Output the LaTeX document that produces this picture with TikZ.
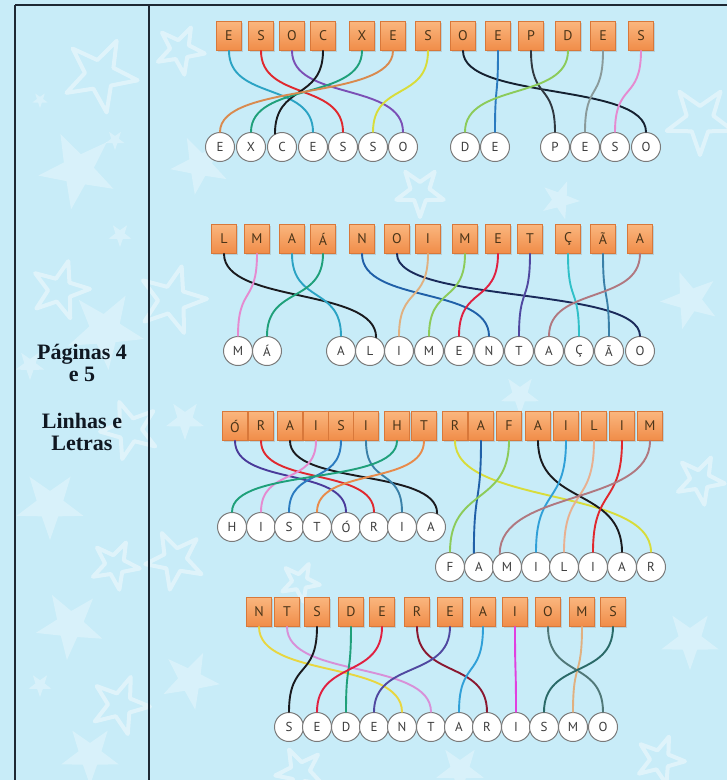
\documentclass[tikz,border=0pt]{standalone}
\usepackage{fontspec}
\setmainfont{Liberation Serif}
\newfontfamily\lettfont{PT Sans}
\usetikzlibrary{shadows}

\definecolor{bgblue}{HTML}{C8ECF8}
\definecolor{frameline}{HTML}{1E2834}
\definecolor{titletext}{HTML}{101822}
\definecolor{boxtop}{HTML}{FAB67E}
\definecolor{boxbot}{HTML}{F08C48}
\definecolor{boxedge}{HTML}{D8783A}
\definecolor{boxtext}{HTML}{4A3418}
\definecolor{circedge}{HTML}{7A7A7A}
\definecolor{circtext}{HTML}{3C3C3C}
% wire colours
\definecolor{cteal}{HTML}{2BA3C4}
\definecolor{cred}{HTML}{E0282E}
\definecolor{cpurple}{HTML}{7B4FB5}
\definecolor{cblack}{HTML}{1A1A1E}
\definecolor{cgreen}{HTML}{1FA07A}
\definecolor{corange}{HTML}{D98A4E}
\definecolor{cyellow}{HTML}{D8DC3A}
\definecolor{cnavy}{HTML}{152030}
\definecolor{cblue}{HTML}{2A7BC0}
\definecolor{cdark}{HTML}{303840}
\definecolor{clgreen}{HTML}{8CCB5A}
\definecolor{cgray}{HTML}{8A9A9A}
\definecolor{cpink}{HTML}{E58AD0}
\definecolor{cdblue}{HTML}{2060A8}
\definecolor{cdnavy}{HTML}{1A2A5A}
\definecolor{ctan}{HTML}{E0B080}
\definecolor{ccrimson}{HTML}{E02040}
\definecolor{cindigo}{HTML}{5048A0}
\definecolor{ccyan}{HTML}{30C0C8}
\definecolor{csteel}{HTML}{3A80A8}
\definecolor{cmauve}{HTML}{B07880}
\definecolor{cviolet}{HTML}{4A3A9A}
\definecolor{cskyblue}{HTML}{30A0D8}
\definecolor{cpeach}{HTML}{E8B090}
\definecolor{cgold}{HTML}{E8D640}
\definecolor{clilac}{HTML}{D890D8}
\definecolor{cmaroon}{HTML}{8A1830}
\definecolor{cmagenta}{HTML}{E040E0}
\definecolor{cgteal}{HTML}{507878}
\definecolor{cdteal}{HTML}{2A6A68}
\definecolor{corng}{HTML}{E88A4A}

\newcommand\bgstar[5]{%
  \draw[#5, shift={(#1,#2)}, rotate=#4] (90:#3) -- (126:0.4*#3) -- (162:#3) -- (198:0.4*#3) -- (234:#3) -- (270:0.4*#3) -- (306:#3) -- (342:0.4*#3) -- (18:#3) -- (54:0.4*#3) -- cycle;}

\begin{document}
\begin{tikzpicture}[x=1pt,y=-1pt,
  lbox/.style={draw=boxedge, line width=0.6pt, top color=boxtop, bottom color=boxbot,
    minimum width=25pt, minimum height=29pt, inner sep=0pt,
    drop shadow={shadow xshift=1pt, shadow yshift=-1.2pt, opacity=0.25},
    font=\lettfont\fontsize{14}{14}\selectfont, text=boxtext},
  lcirc/.style={circle, draw=circedge, line width=1pt, fill=white,
    minimum size=29pt, inner sep=0pt,
    font=\lettfont\fontsize{13}{13}\selectfont, text=circtext},
  wire/.style={line width=1.9pt, line cap=round},
  fstar/.style={fill=white, fill opacity=0.3, draw=none},
  ostar/.style={draw=white, draw opacity=0.42, line width=4pt, line join=round},
  ttl/.style={font=\bfseries\fontsize{22}{26}\selectfont, text=titletext, anchor=base, inner sep=0pt}
]
\useasboundingbox (0,0) rectangle (727,780);
\fill[bgblue] (0,0) rectangle (727,780);

% background stars
\bgstar{100}{75}{38}{10}{ostar}
\bgstar{115}{140}{10}{0}{fstar}
\bgstar{78}{170}{40}{-10}{fstar}
\bgstar{40}{100}{8}{0}{fstar}
\bgstar{120}{235}{12}{0}{fstar}
\bgstar{60}{290}{30}{20}{ostar}
\bgstar{30}{365}{15}{0}{fstar}
\bgstar{105}{330}{40}{5}{fstar}
\bgstar{130}{430}{30}{-15}{ostar}
\bgstar{50}{505}{35}{0}{fstar}
\bgstar{115}{565}{25}{10}{ostar}
\bgstar{70}{625}{35}{-5}{fstar}
\bgstar{40}{685}{12}{0}{fstar}
\bgstar{120}{705}{30}{15}{ostar}
\bgstar{90}{755}{30}{0}{fstar}
\bgstar{180}{50}{25}{10}{ostar}
\bgstar{200}{165}{30}{-10}{fstar}
\bgstar{172}{300}{35}{20}{ostar}
\bgstar{185}{420}{20}{0}{fstar}
\bgstar{175}{560}{30}{-10}{ostar}
\bgstar{190}{680}{30}{10}{fstar}
\bgstar{420}{192}{25}{0}{ostar}
\bgstar{560}{200}{20}{15}{fstar}
\bgstar{700}{120}{35}{0}{ostar}
\bgstar{690}{300}{30}{-15}{fstar}
\bgstar{700}{480}{25}{10}{ostar}
\bgstar{690}{640}{30}{0}{fstar}
\bgstar{660}{760}{25}{15}{ostar}
\bgstar{460}{770}{25}{0}{fstar}
\bgstar{300}{772}{25}{-10}{ostar}
\bgstar{520}{395}{20}{0}{fstar}
\bgstar{300}{582}{20}{10}{ostar}

% frame
\draw[frameline, line width=1.4pt] (15,5) -- (727,5);
\draw[frameline, line width=1.4pt] (15,5) -- (15,780);
\draw[frameline, line width=1.4pt] (149,5) -- (149,780);

% title
\node[ttl] (t1) at (82,359) {Páginas 4};
\node[ttl] (t2) at (82,381) {e 5};
\node[ttl] (t3) at (82,428) {Linhas e};
\node[ttl] (t4) at (82,450) {Letras};

% ---------- row 1 ----------
\foreach \x/\t [count=\i] in {229/E,261/S,292/O,323/C,362/X,393/E,428/S,463/O,498/E,531/P,568/D,603/E,641/S}
  \node[lbox] (a\i) at (\x,36) {\t};
\foreach \x/\t [count=\i] in {220/E,251/X,282/C,313/E,343/S,373/S,403/O,465/D,495/E,555/P,585/E,615/S,646/O}
  \node[lcirc] (p\i) at (\x,147) {\t};
\foreach \s/\e/\c/\an in {1/4/cteal/north,2/5/cred/north,3/7/cpurple/north,4/3/cblack/118,5/2/cgreen/north,6/1/corange/north,7/6/cyellow/north,8/13/cnavy/north,9/9/cblue/north,10/10/cdark/north,11/8/clgreen/north,12/11/cgray/north,13/12/cpink/north}
  \draw[wire, draw=\c] (a\s.south) .. controls +(0,50) and +(0,-50) .. (p\e.\an);

% ---------- row 2 ----------
\foreach \x/\t [count=\i] in {224/L,257/M,292/A,323/Á,362/N,397/O,428/I,465/M,498/E,530/T,568/Ç,603/Ã,640/A}
  \node[lbox] (b\i) at (\x,239) {\t};
\foreach \x/\t [count=\i] in {238/M,267/Á,341/A,370/L,399/I,429/M,459/E,489/N,519/T,549/A,579/Ç,609/Ã,640/O}
  \node[lcirc] (q\i) at (\x,351) {\t};
\foreach \s/\e/\c/\an in {1/4/cblack/66,2/1/cpink/north,3/3/cteal/north,4/2/cgreen/north,5/8/cdblue/north,6/13/cdnavy/north,7/5/ctan/north,8/6/clgreen/north,9/7/ccrimson/north,10/9/cindigo/north,11/11/ccyan/north,12/12/csteel/north,13/10/cmauve/north}
  \draw[wire, draw=\c] (b\s.south) .. controls +(0,50) and +(0,-50) .. (q\e.\an);

% ---------- row 3 ----------
\foreach \x/\t [count=\i] in {235/Ó,261/R,290/A,316/I,341/S,366/I,397/H,424/T,455/R,481/A,509/F,538/A,566/I,594/L,622/I,650/M}
  \node[lbox] (c\i) at (\x,426) {\t};
\foreach \x/\t [count=\i] in {232/H,261/I,289/S,317/T,346/Ó,374/R,402/I,431/A}
  \node[lcirc] (r\i) at (\x,527) {\t};
\foreach \x/\t [count=\i from 9] in {450/F,479/A,507/M,536/I,564/L,593/I,622/A,651/R}
  \node[lcirc] (r\i) at (\x,567) {\t};
\foreach \s/\e/\c/\an in {1/5/cviolet/north,2/6/cred/north,3/8/cblack/66,4/2/cpink/north,5/3/cblue/north,6/7/csteel/north,7/1/cgreen/north,8/4/corng/north}
  \draw[wire, draw=\c] (c\s.south) .. controls +(0,45) and +(0,-45) .. (r\e.\an);
\foreach \s/\e/\c/\an in {9/16/cyellow/north,10/10/cdblue/110,11/9/clgreen/north,12/15/cblack/north,13/12/cskyblue/north,14/13/cpeach/north,15/14/cred/north,16/11/cmauve/119}
  \draw[wire, draw=\c] (c\s.south) .. controls +(0,65) and +(0,-65) .. (r\e.\an);

% ---------- row 4 ----------
\foreach \x/\t [count=\i] in {259/N,287/T,317/S,351/D,382/E,417/R,450/E,483/A,515/I,548/O,582/M,613/S}
  \node[lbox] (d\i) at (\x,612) {\t};
\foreach \x/\t [count=\i] in {289/S,317/E,346/D,374/E,402/N,431/T,459/A,487/R,516/I,544/S,573/M,603/O}
  \node[lcirc] (s\i) at (\x,727) {\t};
\foreach \s/\e/\c/\an in {1/5/cgold/north,2/6/clilac/north,3/1/cblack/north,4/3/cgreen/north,5/2/ccrimson/north,6/8/cmaroon/north,7/4/cindigo/north,8/7/cskyblue/north,9/9/cmagenta/north,10/12/cgteal/north,11/11/ctan/north,12/10/cdteal/north}
  \draw[wire, draw=\c] (d\s.south) .. controls +(0,52) and +(0,-52) .. (s\e.\an);
\end{tikzpicture}
\end{document}
